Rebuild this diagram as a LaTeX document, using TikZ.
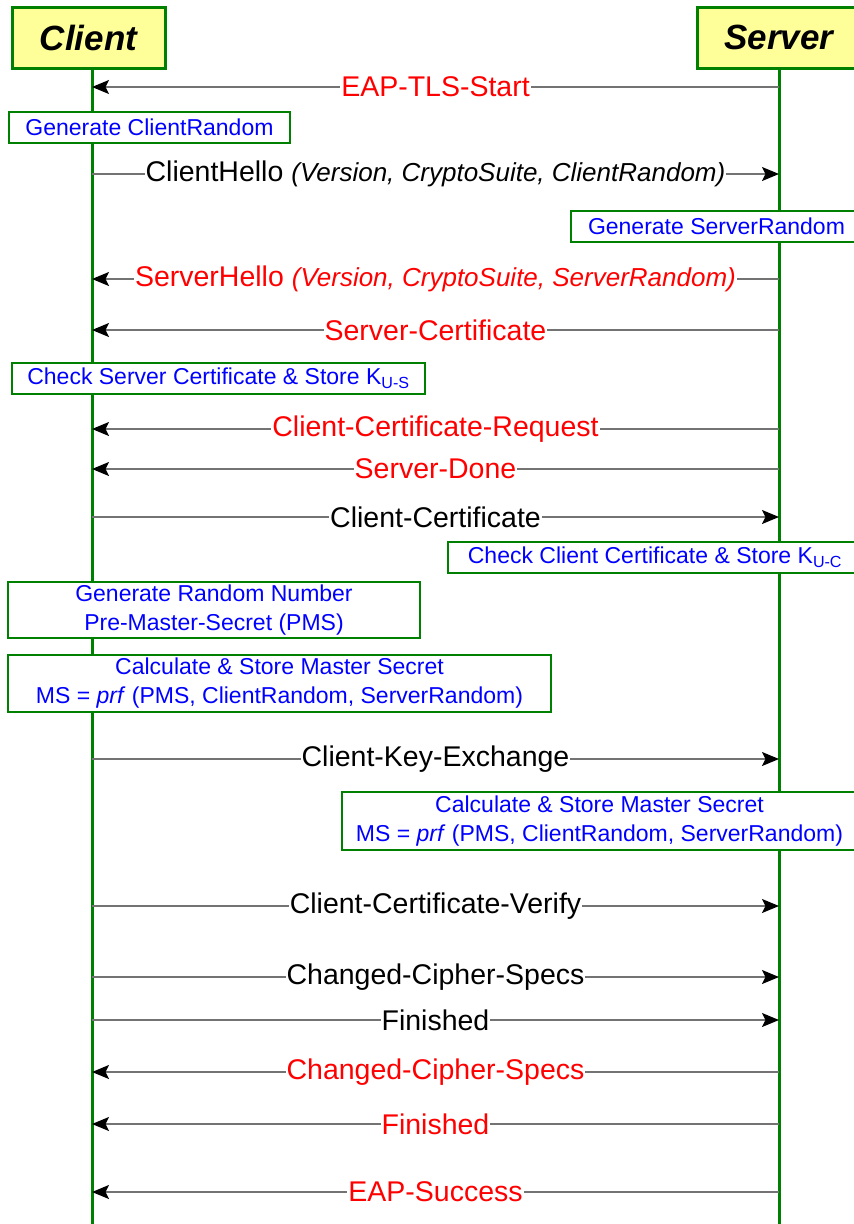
\documentclass[tikz,border=0pt]{standalone}
\usepackage{fontspec}
\setmainfont{Liberation Sans}
\usetikzlibrary{arrows.meta}

\definecolor{lifegreen}{RGB}{0,128,0}
\definecolor{headyellow}{RGB}{255,255,153}
\definecolor{msggray}{RGB}{115,115,115}

\newcommand{\params}[1]{{\fontsize{26}{30}\selectfont\itshape #1}}

\tikzset{
  party/.style={draw=lifegreen, line width=3pt, fill=headyellow, minimum height=61pt,
    inner sep=0pt, font=\fontsize{35}{40}\selectfont\bfseries\itshape},
  life/.style={draw=lifegreen, line width=3pt},
  note/.style={draw=lifegreen, line width=2pt, fill=white, text=blue, align=center,
    inner sep=0pt, font=\fontsize{23}{29}\selectfont},
  msg/.style={draw=msggray, line width=1.5pt,
    -{Stealth[length=17pt,width=14pt,inset=3.5pt,color=black]}},
  lbl/.style={fill=white, inner sep=1pt, font=\fontsize{28.5}{32}\selectfont}
}

\begin{document}
\begin{tikzpicture}[x=1pt,y=-1pt]
\useasboundingbox (0,0) rectangle (854,1224);
\clip (0,0) rectangle (854,1224);

\coordinate (ctop) at (92,68);
\coordinate (cbot) at (92,1224);
\coordinate (stop) at (779,68);
\coordinate (sbot) at (779,1224);

\draw[life] (ctop) -- (cbot);
\draw[life] (stop) -- (sbot);

\node[party, minimum width=153pt] (client) at (88.5,37.5) {Client};
\node[party, minimum width=164pt] (server) at (779,37.5) {Server};

\foreach \n/\y in {1/87, 2/174, 3/279, 4/330, 5/429, 6/469, 7/517, 8/759,
                   9/906, 10/977, 11/1020, 12/1072, 13/1124, 14/1192}
{
    \coordinate (c\n) at (92,\y);
    \coordinate (s\n) at (779,\y);
}

% messages
\draw[msg] (s1) -- node[lbl, text=red] {EAP-TLS-Start} (c1);
\draw[msg] (c2) -- node[lbl] {ClientHello \params{(Version, CryptoSuite, ClientRandom)}} (s2);
\draw[msg] (s3) -- node[lbl, text=red] {ServerHello \params{(Version, CryptoSuite, ServerRandom)}} (c3);
\draw[msg] (s4) -- node[lbl, text=red] {Server-Certificate} (c4);
\draw[msg] (s5) -- node[lbl, text=red] {Client-Certificate-Request} (c5);
\draw[msg] (s6) -- node[lbl, text=red] {Server-Done} (c6);
\draw[msg] (c7) -- node[lbl] {Client-Certificate} (s7);
\draw[msg] (c8) -- node[lbl] {Client-Key-Exchange} (s8);
\draw[msg] (c9) -- node[lbl] {Client-Certificate-Verify} (s9);
\draw[msg] (c10) -- node[lbl] {Changed-Cipher-Specs} (s10);
\draw[msg] (c11) -- node[lbl] {Finished} (s11);
\draw[msg] (s12) -- node[lbl, text=red] {Changed-Cipher-Specs} (c12);
\draw[msg] (s13) -- node[lbl, text=red] {Finished} (c13);
\draw[msg] (s14) -- node[lbl, text=red] {EAP-Success} (c14);

% local steps
\node[note, minimum width=281pt, minimum height=31pt] (genclient) at (149.5,127.5)
    {Generate ClientRandom};
\node[note, minimum width=291pt, minimum height=31pt] (genserver) at (716.5,226.5)
    {Generate ServerRandom};
\node[note, minimum width=413pt, minimum height=31pt] (checkserver) at (218.5,378.5)
    {Check Server Certificate \& Store K\textsubscript{U-S}};
\node[note, minimum width=414pt, minimum height=31pt] (checkclient) at (655,557.5)
    {Check Client Certificate \& Store K\textsubscript{U-C}};
\node[note, minimum width=412pt, minimum height=56pt] (genpms) at (214,610)
    {Generate Random Number\\Pre-Master-Secret (PMS)};
\node[note, minimum width=543pt, minimum height=57pt] (msclient) at (279.5,683.5)
    {Calculate \& Store Master Secret\\MS = \textit{prf} (PMS, ClientRandom, ServerRandom)};
\node[note, minimum width=515pt, minimum height=58pt] (msserver) at (599.5,821)
    {Calculate \& Store Master Secret\\MS = \textit{prf} (PMS, ClientRandom, ServerRandom)};

\end{tikzpicture}
\end{document}
